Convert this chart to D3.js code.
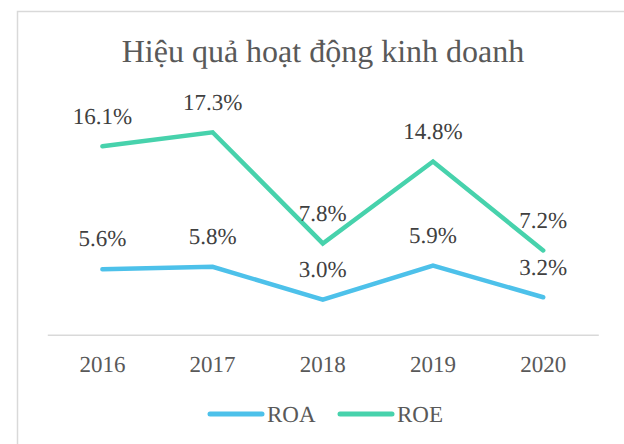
<!DOCTYPE html>
<html>
<head>
<meta charset="utf-8">
<script src="https://cdn.jsdelivr.net/npm/d3@7"></script>
<style>
  body { margin: 0; background: #fff; }
  svg text { text-rendering: geometricPrecision; }
</style>
</head>
<body>
<div id="chart"></div>
<script>
// data
const years = ["2016", "2017", "2018", "2019", "2020"]
const roa = [5.6, 5.8, 3.0, 5.9, 3.2]
const roe = [16.1, 17.3, 7.8, 14.8, 7.2]
const seriesNames = ["ROA", "ROE"]
const seriesColors = ["#4dc1ea", "#47d2ac"]

const width = 624, height = 444
const serif = "'Liberation Serif', 'Times New Roman', serif"

const svg = d3.select("#chart").append("svg")
    .attr("width", width)
    .attr("height", height)

// chart border (runs off the right and bottom edges)
svg.append("rect")
    .attr("x", 17.5).attr("y", 11.5)
    .attr("width", 700).attr("height", 600)
    .attr("fill", "none")
    .attr("stroke", "#d9d9d9")
    .attr("stroke-width", 1.5)

svg.append("text")
    .attr("x", 323)
    .attr("y", 62)
    .attr("text-anchor", "middle")
    .style("font-family", serif)
    .style("font-size", "32px")
    .attr("fill", "#595959")
    .text("Hiệu quả hoạt động kinh doanh")

const x = d3.scaleBand().domain(years).range([47.3, 598.3])
const y = d3.scaleLinear().domain([0, 20]).range([334.7, 100.7])

// category axis
const xAxis = svg.append("g")
    .attr("transform", `translate(0,${y(0)})`)
    .call(d3.axisBottom(x).tickSize(0).tickPadding(20.5))
xAxis.attr("font-family", null).attr("font-size", null)
xAxis.select(".domain").attr("stroke", "#d9d9d9").attr("stroke-width", 1.5)
xAxis.selectAll("text")
    .style("font-family", serif)
    .style("font-size", "23px")
    .attr("fill", "#595959")

const line = d3.line()
    .x((d, i) => x(years[i]) + x.bandwidth() / 2)
    .y(d => y(d))

const series = [roa, roe]

series.forEach(function(vals, s) {
    svg.append("path")
        .datum(vals)
        .attr("d", line)
        .attr("fill", "none")
        .attr("stroke", seriesColors[s])
        .attr("stroke-width", 4.5)
        .attr("stroke-linejoin", "miter")
        .attr("stroke-linecap", "round")

    svg.selectAll(".lbl" + s)
        .data(vals)
        .enter()
        .append("text")
        .attr("class", "lbl" + s)
        .attr("x", (d, i) => x(years[i]) + x.bandwidth() / 2)
        .attr("y", d => y(d) - 22.7)
        .attr("text-anchor", "middle")
        .style("font-family", serif)
        .style("font-size", "23px")
        .attr("fill", "#404040")
        .text(d => d.toFixed(1) + "%")
})

// legend
const legendX = [208, 338]
seriesNames.forEach(function(name, s) {
    const g = svg.append("g").attr("transform", `translate(${legendX[s]},414)`)
    g.append("line")
        .attr("x1", 2).attr("x2", 54)
        .attr("stroke", seriesColors[s])
        .attr("stroke-width", 5)
        .attr("stroke-linecap", "round")
    g.append("text")
        .attr("x", 59)
        .attr("y", 7.7)
        .style("font-family", serif)
        .style("font-size", "23px")
        .attr("fill", "#595959")
        .text(name)
})
</script>
</body>
</html>
